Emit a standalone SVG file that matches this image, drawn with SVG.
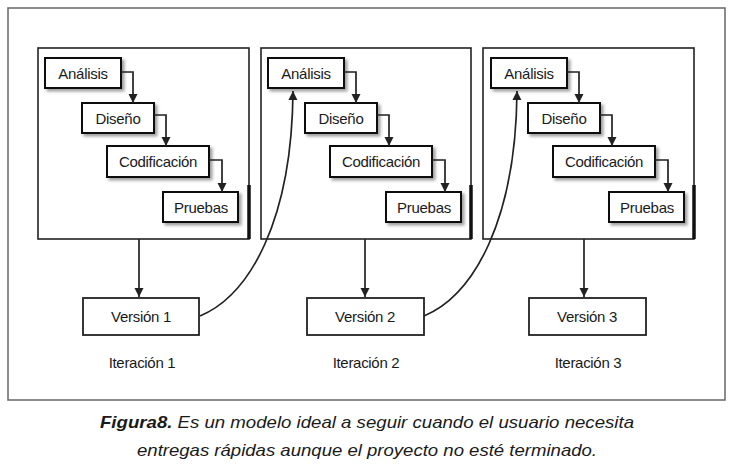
<svg xmlns="http://www.w3.org/2000/svg" width="733" height="466" viewBox="0 0 733 466">
<defs>
<style>
.frame{fill:none;stroke:#666;stroke-width:1.5}
.cont{fill:#fff;stroke:#222;stroke-width:1.6}
.thick{stroke:#111;stroke-width:3.5;fill:none}
.box{fill:#fff;stroke:#111;stroke-width:2}
.ver{fill:#fff;stroke:#222;stroke-width:1.8}
.lbl{font-family:"Liberation Sans Narrow","Liberation Sans",Arial,sans-serif;font-size:15px;letter-spacing:-0.3px;fill:#1a1a1a;text-anchor:middle;dominant-baseline:central}
.con{fill:none;stroke:#222;stroke-width:1.7}
.cap{font-family:"Liberation Sans",Arial,sans-serif;font-size:17px;font-style:italic;fill:#1a1a1a;text-anchor:middle}
</style>
<filter id="sh" x="-20%" y="-20%" width="150%" height="160%">
<feDropShadow dx="2.5" dy="2.5" stdDeviation="1.5" flood-color="#777" flood-opacity="0.7"/>
</filter>
<marker id="ah" viewBox="0 0 10 10" refX="10" refY="5" markerWidth="5.5" markerHeight="5.5" orient="auto" markerUnits="strokeWidth">
<path d="M0,0 L10,5 L0,10 z" fill="#222"/>
</marker>
</defs>
<rect class="frame" x="8" y="8" width="717" height="392"/>

<g id="iter1">
<rect class="cont" x="38" y="48" width="211" height="191"/>
<path class="thick" d="M249,185 V239"/>
</g>
<g id="iter2">
<rect class="cont" x="261" y="48" width="210" height="191"/>
<path class="thick" d="M471,185 V239"/>
</g>
<g id="iter3">
<rect class="cont" x="483" y="48" width="211" height="191"/>
<path class="thick" d="M694,185 V239"/>
</g>

<g id="analisis1"><rect class="box" filter="url(#sh)" x="45" y="58" width="76" height="30"/><text class="lbl" x="83" y="73">Análisis</text></g>
<g id="diseno1"><rect class="box" filter="url(#sh)" x="82" y="103" width="72" height="30"/><text class="lbl" x="118" y="118">Diseño</text></g>
<g id="codificacion1"><rect class="box" filter="url(#sh)" x="107" y="146" width="102" height="31"/><text class="lbl" x="158" y="161.5">Codificación</text></g>
<g id="pruebas1"><rect class="box" filter="url(#sh)" x="163" y="192" width="75" height="30"/><text class="lbl" x="201" y="207">Pruebas</text></g>

<g id="analisis2"><rect class="box" filter="url(#sh)" x="268" y="58" width="76" height="30"/><text class="lbl" x="306" y="73">Análisis</text></g>
<g id="diseno2"><rect class="box" filter="url(#sh)" x="305" y="103" width="72" height="30"/><text class="lbl" x="341" y="118">Diseño</text></g>
<g id="codificacion2"><rect class="box" filter="url(#sh)" x="330" y="146" width="102" height="31"/><text class="lbl" x="381" y="161.5">Codificación</text></g>
<g id="pruebas2"><rect class="box" filter="url(#sh)" x="386" y="192" width="75" height="30"/><text class="lbl" x="424" y="207">Pruebas</text></g>

<g id="analisis3"><rect class="box" filter="url(#sh)" x="491" y="58" width="76" height="30"/><text class="lbl" x="529" y="73">Análisis</text></g>
<g id="diseno3"><rect class="box" filter="url(#sh)" x="528" y="103" width="72" height="30"/><text class="lbl" x="564" y="118">Diseño</text></g>
<g id="codificacion3"><rect class="box" filter="url(#sh)" x="553" y="146" width="102" height="31"/><text class="lbl" x="604" y="161.5">Codificación</text></g>
<g id="pruebas3"><rect class="box" filter="url(#sh)" x="609" y="192" width="75" height="30"/><text class="lbl" x="647" y="207">Pruebas</text></g>

<g id="version1"><rect class="ver" x="83" y="298" width="116" height="37"/><text class="lbl" x="141" y="316.5">Versión 1</text></g>
<g id="version2"><rect class="ver" x="307" y="298" width="117" height="37"/><text class="lbl" x="365" y="316.5">Versión 2</text></g>
<g id="version3"><rect class="ver" x="529" y="298" width="117" height="37"/><text class="lbl" x="587" y="316.5">Versión 3</text></g>

<g id="labels">
<text class="lbl" x="142" y="362">Iteración 1</text>
<text class="lbl" x="366" y="362">Iteración 2</text>
<text class="lbl" x="588" y="362">Iteración 3</text>
</g>

<g id="connectors">
<path class="con" marker-end="url(#ah)" d="M121,72 H133 V103"/>
<path class="con" marker-end="url(#ah)" d="M154,115 H166 V146"/>
<path class="con" marker-end="url(#ah)" d="M209,160 H222 V192"/>
<path class="con" marker-end="url(#ah)" d="M344,72 H356 V103"/>
<path class="con" marker-end="url(#ah)" d="M377,115 H389 V146"/>
<path class="con" marker-end="url(#ah)" d="M432,160 H445 V192"/>
<path class="con" marker-end="url(#ah)" d="M567,72 H579 V103"/>
<path class="con" marker-end="url(#ah)" d="M600,115 H612 V146"/>
<path class="con" marker-end="url(#ah)" d="M655,160 H668 V192"/>
<path class="con" marker-end="url(#ah)" d="M139,239 V297"/>
<path class="con" marker-end="url(#ah)" d="M365,239 V297"/>
<path class="con" marker-end="url(#ah)" d="M584,239 V297"/>
<path class="con" marker-end="url(#ah)" d="M200,316 C250,295 292,220 293,91"/>
<path class="con" marker-end="url(#ah)" d="M424,316 C474,295 516,220 517,91"/>
</g>

<g id="caption">
<text class="cap" x="367" y="428" textLength="534" lengthAdjust="spacingAndGlyphs"><tspan font-weight="bold">Figura8.</tspan> Es un modelo ideal a seguir cuando el usuario necesita</text>
<text class="cap" x="367" y="456" textLength="460" lengthAdjust="spacingAndGlyphs">entregas rápidas aunque el proyecto no esté terminado.</text>
</g>
</svg>
